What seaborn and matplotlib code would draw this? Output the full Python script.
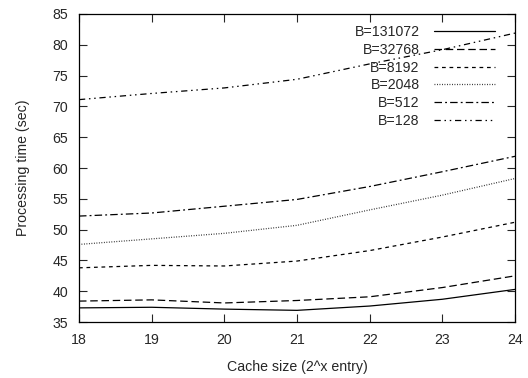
import matplotlib
matplotlib.use("Agg")
import matplotlib.pyplot as plt
from matplotlib.transforms import Affine2D
import seaborn as sns
import pandas as pd

cache_x = [18, 19, 20, 21, 22, 23, 24]
labels = ["B=131072", "B=32768", "B=8192", "B=2048", "B=512", "B=128"]
b131072 = [37.3, 37.4, 37.1, 36.9, 37.6, 38.7, 40.3]
b32768 = [38.4, 38.6, 38.1, 38.5, 39.1, 40.6, 42.5]
b8192 = [43.8, 44.2, 44.1, 44.9, 46.6, 48.8, 51.2]
b2048 = [47.6, 48.5, 49.4, 50.7, 53.2, 55.6, 58.3]
b512 = [52.2, 52.7, 53.8, 54.9, 57.0, 59.4, 61.9]
b128 = [71.1, 72.1, 73.0, 74.4, 76.9, 79.2, 81.9]
series = [b131072, b32768, b8192, b2048, b512, b128]

sns.set_style("ticks")
plt.rcParams['font.family'] = ['Liberation Sans', 'DejaVu Sans']
FS = 10.2

fig = plt.figure(figsize=(5.28, 3.78), dpi=100)
ax = fig.add_axes([0.1496, 0.148, 0.8258, 0.815])

dash_styles = [(None, None), (6, 3), (3, 3), (0.7, 1.3), (6, 2.5, 1.5, 2.5), (5, 3, 1.2, 3, 1.2, 3)]
colors = ["black", "black", "black", "#222222", "black", "black"]
for lab, vals, ds, c in zip(labels, series, dash_styles, colors):
    df = pd.DataFrame({"x": cache_x, "y": vals})
    sns.lineplot(data=df, x="x", y="y", ax=ax, color=c, linewidth=0.9, label=lab)
    line = ax.get_lines()[-1]
    if ds[0] is not None:
        line.set_dashes(ds)

ax.set_xlim(18, 24)
ax.set_ylim(35, 85)
ax.set_xticks(cache_x)
ax.set_yticks(range(35, 90, 5))
ax.tick_params(direction="in", top=True, right=True, length=6, width=0.8, labelsize=FS, pad=8)
for s in ax.spines.values():
    s.set_linewidth(0.9)
    s.set_color("black")
ax.set_xlabel("Cache size (2^x entry)", fontsize=FS, labelpad=9)
ax.set_ylabel("Processing time (sec)", fontsize=FS, labelpad=16)

leg = ax.legend(loc="upper right", bbox_to_anchor=(0.955, 0.9645), frameon=False,
                markerfirst=False, handlelength=4.3, fontsize=FS, labelspacing=0.27,
                borderaxespad=0, borderpad=0, handletextpad=1.05)

# right-align the label texts
fig.canvas.draw()
renderer = fig.canvas.get_renderer()
texts = leg.get_texts()
rights = [t.get_window_extent(renderer).x1 for t in texts]
target = max(rights)
for t, r in zip(texts, rights):
    dx = target - r
    if abs(dx) > 0.01:
        t.set_transform(t.get_transform() + Affine2D().translate(dx, 0))

fig.savefig("out.png", dpi=100)
